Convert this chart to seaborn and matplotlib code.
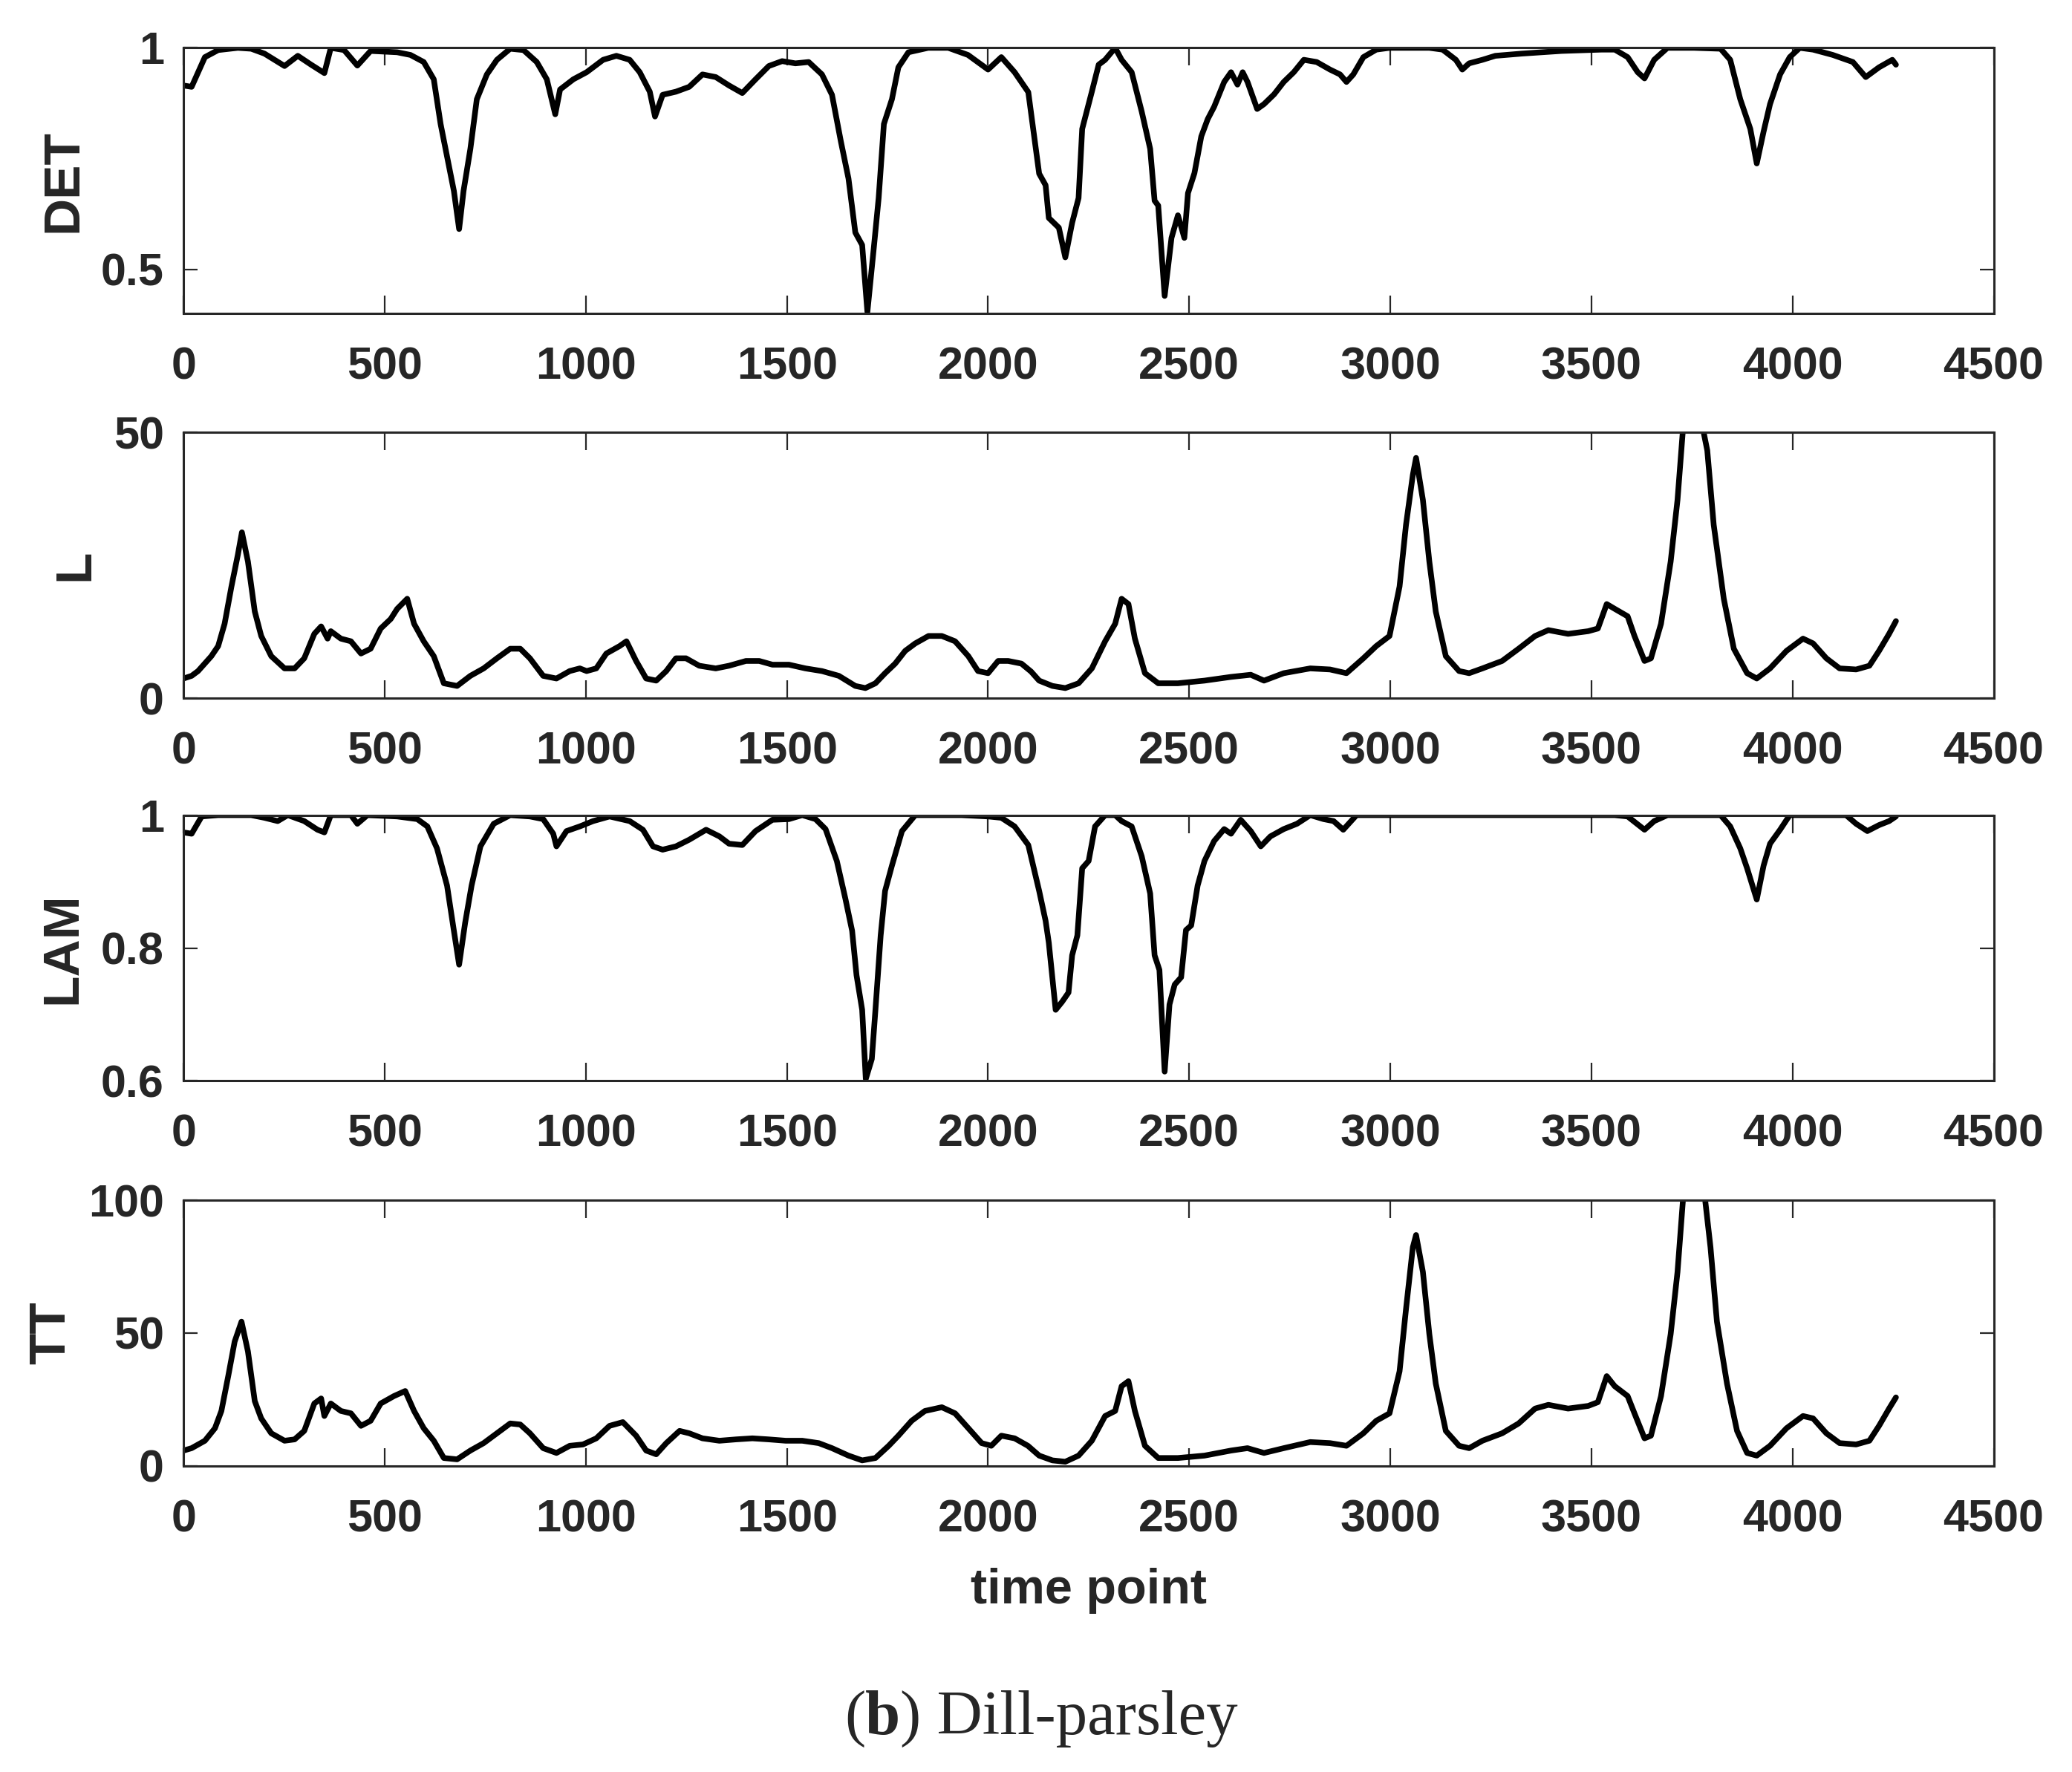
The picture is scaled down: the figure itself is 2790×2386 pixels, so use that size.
import numpy as np
import pandas as pd
import matplotlib
matplotlib.use('Agg')
import matplotlib.pyplot as plt
import matplotlib.ticker as mticker
import seaborn as sns

# valores: (time point, valor)
det_points = [
    (0, 0.915), (20, 0.912), (53, 0.979), (86, 0.995), (135, 1.0), (168, 0.998), (201, 0.987),
    (251, 0.959), (284, 0.982), (317, 0.962), (350, 0.943), (366, 1.0), (399, 0.995), (432, 0.96),
    (465, 0.993), (531, 0.99), (564, 0.984), (597, 0.968), (622, 0.929), (639, 0.828), (655, 0.755),
    (672, 0.677), (685, 0.591), (696, 0.677), (713, 0.772), (729, 0.884), (754, 0.94), (779, 0.973),
    (812, 0.998), (845, 0.995), (878, 0.968), (903, 0.929), (924, 0.85), (936, 0.906), (969, 0.929),
    (1002, 0.945), (1043, 0.973), (1076, 0.982), (1109, 0.973), (1134, 0.945), (1159, 0.901),
    (1172, 0.845), (1191, 0.894), (1224, 0.901), (1257, 0.912), (1290, 0.94), (1323, 0.934),
    (1356, 0.915), (1389, 0.898), (1422, 0.929), (1455, 0.959), (1488, 0.97), (1521, 0.965),
    (1554, 0.968), (1587, 0.94), (1612, 0.894), (1634, 0.789), (1653, 0.705), (1670, 0.583),
    (1687, 0.555), (1700, 0.404), (1716, 0.549), (1728, 0.661), (1741, 0.828), (1761, 0.884),
    (1777, 0.956), (1802, 0.99), (1851, 1.0), (1901, 1.0), (1950, 0.984), (2000, 0.951),
    (2033, 0.979), (2066, 0.945), (2100, 0.9), (2127, 0.716), (2143, 0.69), (2151, 0.616),
    (2176, 0.594), (2192, 0.527), (2209, 0.605), (2225, 0.661), (2234, 0.817), (2258, 0.901),
    (2275, 0.962), (2291, 0.973), (2316, 1.0), (2332, 0.973), (2357, 0.945), (2382, 0.856),
    (2403, 0.772), (2414, 0.655), (2423, 0.644), (2439, 0.44), (2456, 0.571), (2472, 0.622),
    (2488, 0.571), (2497, 0.672), (2513, 0.717), (2530, 0.8), (2546, 0.839), (2562, 0.867),
    (2587, 0.923), (2604, 0.945), (2620, 0.917), (2633, 0.945), (2645, 0.923), (2669, 0.862),
    (2686, 0.873), (2711, 0.895), (2735, 0.923), (2760, 0.945), (2785, 0.973), (2817, 0.968),
    (2850, 0.951), (2875, 0.94), (2891, 0.923), (2908, 0.94), (2933, 0.979), (2965, 0.996),
    (2998, 1.0), (3031, 1.0), (3097, 1.0), (3130, 0.996), (3163, 0.973), (3179, 0.951),
    (3196, 0.965), (3229, 0.973), (3261, 0.982), (3327, 0.987), (3426, 0.993), (3525, 0.996),
    (3558, 0.996), (3590, 0.979), (3615, 0.945), (3632, 0.931), (3656, 0.973), (3689, 1.0),
    (3755, 1.0), (3821, 0.998), (3845, 0.973), (3870, 0.884), (3895, 0.817), (3911, 0.739),
    (3928, 0.811), (3944, 0.873), (3969, 0.94), (3993, 0.979), (4018, 1.0), (4051, 0.996),
    (4100, 0.984), (4150, 0.968), (4182, 0.934), (4215, 0.956), (4248, 0.973), (4257, 0.962),
]

l_points = [
    (0, 3.7), (20, 4.2), (36, 5.1), (69, 7.9), (86, 9.8), (102, 14), (119, 21), (135, 27),
    (145, 31.2), (160, 25.7), (177, 16.3), (193, 11.7), (218, 7.9), (251, 5.6), (276, 5.6),
    (300, 7.5), (325, 12.1), (342, 13.5), (358, 11.2), (366, 12.6), (391, 11.2), (416, 10.7),
    (441, 8.4), (465, 9.3), (490, 13.1), (515, 14.9), (531, 16.8), (556, 18.7), (573, 14),
    (597, 10.7), (622, 7.9), (647, 2.8), (680, 2.3), (713, 4.2), (746, 5.6), (779, 7.5),
    (812, 9.3), (837, 9.3), (861, 7.5), (894, 4.2), (927, 3.7), (960, 5.1), (985, 5.6),
    (1002, 5.1), (1026, 5.6), (1051, 8.4), (1084, 9.8), (1101, 10.7), (1125, 7), (1150, 3.7),
    (1175, 3.3), (1200, 5.1), (1224, 7.5), (1249, 7.5), (1282, 6.1), (1323, 5.6), (1356, 6.1),
    (1398, 7), (1431, 7), (1464, 6.3), (1505, 6.3), (1546, 5.6), (1587, 5.1), (1629, 4.2),
    (1670, 2.3), (1695, 1.9), (1720, 2.8), (1744, 4.7), (1769, 6.5), (1794, 8.9), (1819, 10.3),
    (1852, 11.7), (1885, 11.7), (1918, 10.7), (1951, 7.9), (1975, 5.1), (2000, 4.7), (2025, 7),
    (2050, 7), (2083, 6.5), (2107, 5.0), (2127, 3.3), (2160, 2.3), (2192, 1.9), (2225, 2.8),
    (2258, 5.6), (2291, 10.7), (2316, 14), (2332, 18.7), (2349, 17.7), (2365, 11.2), (2390, 4.7),
    (2423, 2.8), (2472, 2.8), (2538, 3.3), (2604, 4), (2653, 4.4), (2686, 3.3), (2735, 4.7),
    (2801, 5.6), (2850, 5.4), (2891, 4.7), (2933, 7.5), (2965, 9.8), (2998, 11.7), (3023, 21),
    (3039, 32.6), (3056, 42), (3064, 45.2), (3081, 37.3), (3097, 25.7), (3113, 16.3), (3138, 7.9),
    (3171, 5.1), (3196, 4.7), (3229, 5.6), (3278, 7), (3319, 9.3), (3360, 11.7), (3393, 12.8),
    (3442, 12.1), (3492, 12.6), (3516, 13.1), (3538, 17.7), (3558, 16.8), (3590, 15.4),
    (3607, 11.7), (3632, 7), (3648, 7.5), (3673, 14), (3697, 25.7), (3714, 37.3), (3730, 53),
    (3750, 54), (3771, 53), (3788, 46.6), (3804, 32.6), (3829, 18.7), (3854, 9.3), (3887, 4.7),
    (3911, 3.7), (3944, 5.6), (3985, 8.9), (4026, 11.2), (4051, 10.3), (4084, 7.5), (4117, 5.6),
    (4158, 5.4), (4191, 6.1), (4215, 8.9), (4240, 12.1), (4257, 14.5),
]

lam_points = [
    (0, 0.974), (20, 0.972), (45, 0.998), (86, 1.0), (168, 1.0), (201, 0.996), (234, 0.991),
    (259, 1.0), (300, 0.991), (333, 0.978), (350, 0.974), (366, 1.0), (416, 1.0), (432, 0.987),
    (457, 1.0), (531, 0.998), (581, 0.994), (606, 0.983), (630, 0.95), (655, 0.894), (672, 0.826),
    (685, 0.775), (700, 0.838), (716, 0.894), (738, 0.953), (771, 0.987), (812, 1.0), (861, 0.998),
    (894, 0.994), (919, 0.972), (927, 0.953), (952, 0.976), (985, 0.983), (1018, 0.991),
    (1059, 0.998), (1109, 0.991), (1142, 0.978), (1167, 0.953), (1191, 0.948), (1224, 0.953),
    (1257, 0.963), (1299, 0.978), (1332, 0.968), (1356, 0.957), (1389, 0.955), (1422, 0.976),
    (1464, 0.993), (1505, 0.994), (1538, 1.0), (1571, 0.994), (1596, 0.979), (1624, 0.931),
    (1645, 0.875), (1662, 0.826), (1673, 0.759), (1687, 0.707), (1696, 0.603), (1711, 0.633),
    (1720, 0.707), (1733, 0.819), (1744, 0.886), (1761, 0.924), (1786, 0.976), (1819, 1.0),
    (1934, 1.0), (2000, 0.998), (2033, 0.996), (2066, 0.983), (2100, 0.955), (2127, 0.886),
    (2143, 0.841), (2151, 0.808), (2168, 0.707), (2184, 0.719), (2200, 0.733), (2209, 0.789),
    (2222, 0.819), (2234, 0.92), (2250, 0.931), (2266, 0.983), (2291, 1.0), (2316, 1.0),
    (2332, 0.991), (2357, 0.983), (2382, 0.938), (2403, 0.882), (2414, 0.789), (2426, 0.767),
    (2439, 0.614), (2451, 0.715), (2464, 0.745), (2480, 0.756), (2492, 0.827), (2505, 0.834),
    (2521, 0.894), (2538, 0.931), (2562, 0.961), (2587, 0.979), (2604, 0.972), (2628, 0.993),
    (2653, 0.976), (2678, 0.953), (2702, 0.968), (2735, 0.979), (2768, 0.987), (2801, 1.0),
    (2834, 0.994), (2859, 0.991), (2883, 0.978), (2916, 1.0), (2933, 1.0), (3200, 1.0),
    (3558, 1.0), (3590, 0.998), (3632, 0.978), (3656, 0.991), (3689, 1.0), (3821, 1.0),
    (3845, 0.983), (3870, 0.95), (3887, 0.92), (3911, 0.873), (3928, 0.924), (3944, 0.957),
    (3969, 0.978), (3993, 1.0), (4133, 1.0), (4158, 0.987), (4186, 0.976), (4215, 0.985),
    (4240, 0.991), (4257, 0.998),
]

tt_points = [
    (0, 5.8), (20, 6.7), (53, 9.5), (78, 14.2), (94, 20.7), (111, 33.8), (127, 46.8), (144, 54.3),
    (160, 43.1), (177, 24.4), (193, 17.9), (218, 12.3), (251, 9.5), (276, 10), (300, 13.2),
    (325, 23.5), (342, 25.4), (350, 18.8), (366, 23.5), (391, 20.7), (416, 19.8), (441, 15.1),
    (465, 17), (490, 23.5), (523, 26.3), (551, 28.2), (573, 20.7), (597, 14.2), (622, 9.5),
    (647, 3), (680, 2.5), (713, 5.8), (746, 8.6), (779, 12.3), (812, 16), (837, 15.6), (861, 12.3),
    (894, 6.7), (927, 4.9), (960, 7.6), (993, 8.1), (1026, 10.4), (1059, 15.1), (1092, 16.5),
    (1125, 11.4), (1150, 5.8), (1175, 4.4), (1200, 8.6), (1233, 13.2), (1257, 12.3), (1290, 10.4),
    (1332, 9.5), (1373, 10), (1414, 10.4), (1455, 10), (1497, 9.5), (1538, 9.5), (1579, 8.6),
    (1612, 6.7), (1653, 3.9), (1687, 2.1), (1720, 3), (1753, 7.6), (1777, 11.4), (1810, 17),
    (1843, 20.7), (1885, 22.1), (1918, 19.8), (1951, 14.2), (1984, 8.6), (2008, 7.6),
    (2033, 11.4), (2066, 10.4), (2099, 7.6), (2127, 3.9), (2160, 2.1), (2192, 1.6), (2225, 3.9),
    (2258, 9.5), (2291, 18.8), (2316, 20.7), (2332, 30), (2349, 31.9), (2365, 20.7), (2390, 7.6),
    (2423, 3), (2472, 3), (2538, 3.9), (2604, 5.8), (2645, 6.7), (2686, 4.9), (2735, 6.7),
    (2801, 9), (2850, 8.6), (2891, 7.6), (2933, 12.3), (2965, 17), (2998, 19.8), (3023, 35.6),
    (3039, 59), (3056, 82.3), (3064, 86.9), (3081, 73), (3097, 49.6), (3113, 31), (3138, 13.2),
    (3171, 7.6), (3196, 6.7), (3229, 9.5), (3278, 12.3), (3319, 16), (3360, 21.6), (3393, 23),
    (3442, 21.6), (3492, 22.6), (3516, 24), (3538, 33.8), (3558, 30), (3590, 26.3), (3607, 19.8),
    (3632, 10.4), (3648, 11.4), (3673, 26.3), (3697, 49.6), (3714, 73), (3730, 105), (3755, 108),
    (3779, 105), (3796, 82.3), (3812, 54.3), (3837, 31), (3862, 13.2), (3887, 4.9), (3911, 3.9),
    (3944, 7.6), (3985, 14.2), (4026, 18.8), (4051, 17.9), (4084, 12.3), (4117, 8.6), (4158, 8.1),
    (4191, 9.5), (4215, 15.1), (4240, 21.6), (4257, 25.8),
]

paneles = [
    # nombre, puntos, limites y, ticks y
    ('DET', det_points, (0.4, 1.0), [0.5, 1.0]),
    ('L', l_points, (0, 50), [0, 50]),
    ('LAM', lam_points, (0.6, 1.0), [0.6, 0.8, 1.0]),
    ('TT', tt_points, (0, 100), [0, 50, 100]),
]
x_ticks = [0, 500, 1000, 1500, 2000, 2500, 3000, 3500, 4000, 4500]

sns.set_style('white')
plt.rcParams['font.family'] = ['Liberation Sans', 'DejaVu Sans']
gris = '#262626'

fig = plt.figure(figsize=(27.9, 23.86), dpi=100)

bottoms = [0.823, 0.606, 0.390, 0.1727]
label_x = [-0.0663, -0.0600, -0.0667, -0.0732]

for (nombre, puntos, ylim, yticks), b, lx in zip(paneles, bottoms, label_x):
    ax = fig.add_axes([0.0886, b, 0.8736, 0.15])
    df = pd.DataFrame(puntos, columns=['t', 'valor'])
    sns.lineplot(data=df, x='t', y='valor', ax=ax, color='black', linewidth=5.5)

    ax.set_xlim(0, 4500)
    ax.set_ylim(*ylim)
    ax.set_xticks(x_ticks)
    ax.set_yticks(yticks)
    ax.yaxis.set_major_formatter(mticker.FormatStrFormatter('%g'))

    for sp in ax.spines.values():
        sp.set_visible(True)
        sp.set_color(gris)
        sp.set_linewidth(2.2)

    ax.tick_params(axis='x', direction='in', top=True, bottom=True, length=17, width=1.6,
                   pad=32, labelsize=44, colors=gris)
    ax.tick_params(axis='y', direction='in', left=True, right=True, length=14, width=1.6,
                   pad=19, labelsize=44, colors=gris)
    for lab in ax.get_xticklabels() + ax.get_yticklabels():
        lab.set_fontweight('bold')

    ax.set_xlabel('')
    ax.set_ylabel(nombre, fontsize=50, fontweight='bold', color=gris)
    ax.yaxis.set_label_coords(lx, 0.5)
    ax.yaxis.label.set_va('center')

# etiqueta del eje x en el ultimo panel
ax.set_xlabel('time point', fontsize=48, fontweight='bold', color=gris)
ax.xaxis.set_label_coords(0.5, -0.517)
ax.xaxis.label.set_va('baseline')

# pie de figura: (b) Dill-parsley
serif = ['Liberation Serif', 'DejaVu Serif']
t1 = fig.text(0.4075, 0.0214, '(', fontsize=61, family=serif, va='baseline', ha='left')
t2 = ax.annotate('b', xy=(1, 0), xycoords=t1, fontsize=61, family=serif, fontweight='bold',
                 va='bottom', ha='left', annotation_clip=False)
ax.annotate(') Dill-parsley', xy=(1, 0), xycoords=t2, fontsize=61, family=serif,
            va='bottom', ha='left', annotation_clip=False)

plt.savefig('out.png', dpi=100)
plt.close()
